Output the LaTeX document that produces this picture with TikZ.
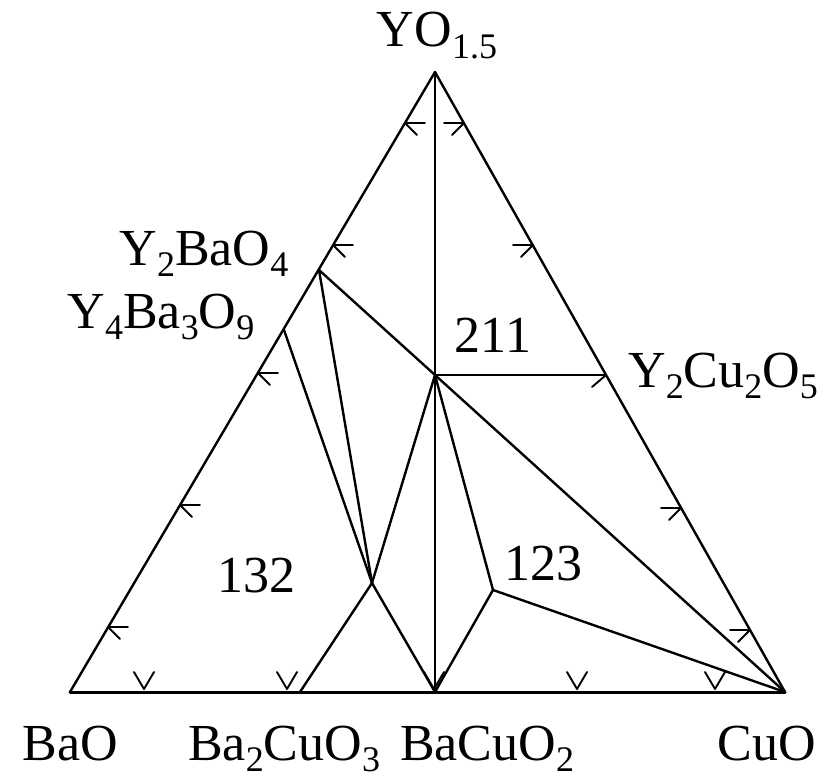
\documentclass[tikz,border=0pt]{standalone}
\usepackage{fontspec}
\setmainfont{Liberation Serif}
\newcommand{\sbs}[1]{\raisebox{-0.22em}{\fontsize{36}{38}\selectfont #1}}
\begin{document}
\begin{tikzpicture}[x=1pt,y=-1pt,line cap=round,line join=round,
  ln/.style={line width=2.4pt},
  tk/.style={line width=1.9pt},
  lbl/.style={font=\fontsize{52}{56}\selectfont,inner sep=0pt,anchor=base}]
\useasboundingbox (0,0) rectangle (835,778);
% corners and points
\coordinate (T) at (435,72);
\coordinate (L) at (70,692);
\coordinate (R) at (785,692);
\coordinate (B) at (435,692);
\coordinate (B2) at (300,692);
\coordinate (P) at (319,270);
\coordinate (P2) at (284,330);
\coordinate (M) at (435,375);
\coordinate (E) at (606,375);
\coordinate (Q) at (372,583);
\coordinate (S) at (493,590);
% triangle
\draw[ln] (L) -- (T) -- (R);
\draw[line width=3pt] (L) -- (R);
% tie lines
\draw[ln] (T) -- (B);
\draw[ln] (M) -- (E);
\draw[ln] (P) -- (M) -- (R);
\draw[ln] (P) -- (Q);
\draw[ln] (P2) -- (Q);
\draw[ln] (M) -- (Q);
\draw[ln] (B2) -- (Q) -- (B);
\draw[ln] (M) -- (S);
\draw[ln] (B) -- (S) -- (R);
% left edge ticks
\foreach \p in {(405,123),(333,245),(258,373),(180,505),(108,627)}
  {\draw[tk] \p -- ++(20,0); \draw[tk] \p -- ++(12,12);}
% right edge ticks
\foreach \p in {(464,123),(533,245),(681,508),(750,630)}
  {\draw[tk] \p -- ++(-20,0); \draw[tk] \p -- ++(-12,12);}
\draw[tk] (E) -- ++(-14,12);
% bottom ticks
\foreach \x in {144,287,434,577,715}
  {\draw[tk] (\x-10,672) -- (\x,689) -- (\x+10,672);}
% labels
\node[lbl] (lYO) at (437,47) {YO\sbs{1.5}};
\node[lbl] (lY2BaO4) at (204,265) {Y\sbs{2}BaO\sbs{4}};
\node[lbl] (lY4Ba3O9) at (161,328) {Y\sbs{4}Ba\sbs{3}O\sbs{9}};
\node[lbl] (l211) at (493,352) {211};
\node[lbl,anchor=base west] (lY2Cu2O5) at (628,387) {Y\sbs{2}Cu\sbs{2}O\sbs{5}};
\node[lbl] (l132) at (256,592) {132};
\node[lbl] (l123) at (543,580) {123};
\node[lbl] (lBaO) at (70,760) {BaO};
\node[lbl] (lBa2CuO3) at (284,760) {Ba\sbs{2}CuO\sbs{3}};
\node[lbl] (lBaCuO2) at (487,760) {BaCuO\sbs{2}};
\node[lbl] (lCuO) at (767,760) {CuO};
\end{tikzpicture}
\end{document}
